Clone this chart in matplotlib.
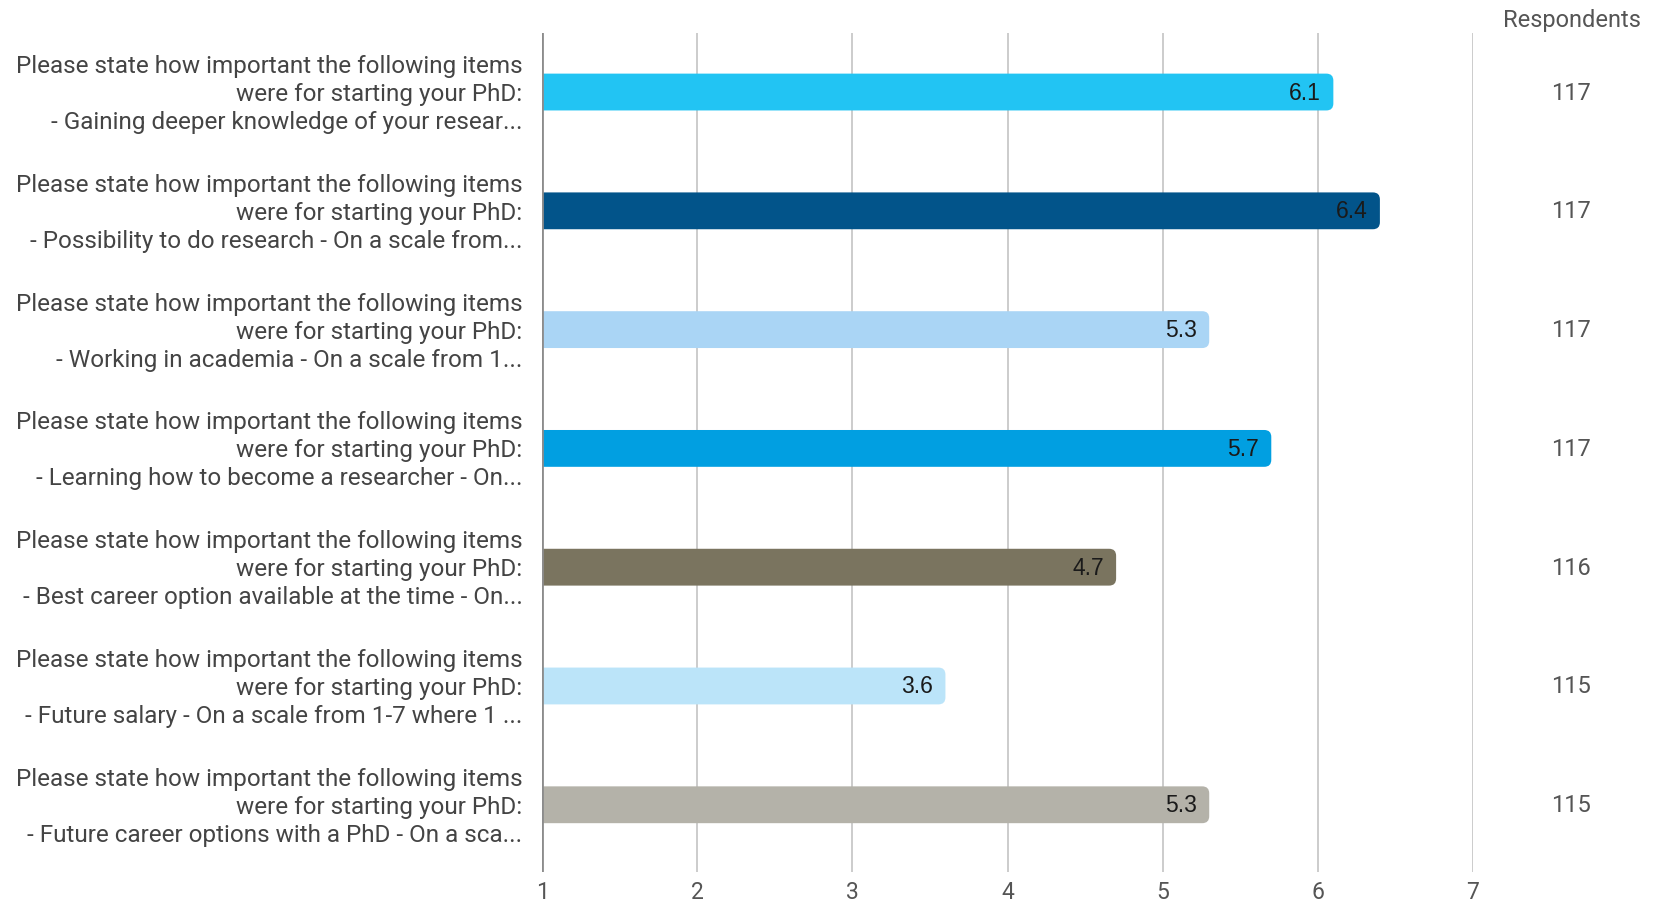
import matplotlib.pyplot as plt
from matplotlib.patches import FancyBboxPatch
import matplotlib.transforms as mtransforms

# chart data
items = [
    "Gaining deeper knowledge of your resear...",
    "Possibility to do research - On a scale from...",
    "Working in academia - On a scale from 1...",
    "Learning how to become a researcher - On...",
    "Best career option available at the time - On...",
    "Future salary - On a scale from 1-7 where 1 ...",
    "Future career options with a PhD - On a sca...",
]
prefix = "Please state how important the following items\nwere for starting your PhD:\n- "
scores = [6.1, 6.4, 5.3, 5.7, 4.7, 3.6, 5.3]
respondents = [117, 117, 117, 117, 116, 115, 115]
bar_colors = ["#22C4F3", "#02548A", "#AAD5F5", "#019FE1", "#7A745F", "#BBE4F9", "#B4B2A9"]
xticks = [1, 2, 3, 4, 5, 6, 7]

plt.rcParams["font.family"] = ["Roboto", "DejaVu Sans"]

fig = plt.figure(figsize=(16.53, 9.03), dpi=100)
ax = fig.add_axes([542 / 1653, 1 - 873 / 903, (1473 - 542) / 1653, (873 - 34) / 903])

ax.set_xlim(1, 7)
ax.set_ylim(6.566, -0.497)

bar_h = 0.31
# px per data unit, used to keep corner rounding circular
px_x = (1473 - 542) / 6
px_y = 118.8
r = 7 / px_x
for i, (v, c) in enumerate(zip(scores, bar_colors)):
    patch = FancyBboxPatch(
        (1 - 0.1, i - bar_h / 2), v - 1 + 0.1, bar_h,
        boxstyle=f"round,pad=0,rounding_size={r}",
        mutation_aspect=px_x / px_y,
        fc=c, ec="none", zorder=3,
    )
    ax.add_patch(patch)
    ax.text(v - 0.08, i, f"{v:.1f}", ha="right", va="center",
            fontsize=16.5, color="#1a1a1a", family=["Liberation Sans", "DejaVu Sans"], zorder=4)

# grid lines
for x in xticks[1:]:
    ax.axvline(x, color="#c4c4c4", lw=1.2, zorder=1)
ax.axvline(1, color="#8c8c8c", lw=2, zorder=5)

for s in ax.spines.values():
    s.set_visible(False)

ax.set_xticks(xticks)
ax.set_xticklabels([str(x) for x in xticks], fontsize=16.5, color="#555555")
ax.tick_params(axis="x", length=0, pad=6)
ax.set_yticks(range(len(items)))
ax.set_yticklabels([prefix + t for t in items], fontsize=17.5, color="#444444",
                   linespacing=1.28, ha="right", multialignment="right")
ax.tick_params(axis="y", length=0, pad=14)
shift = mtransforms.ScaledTranslation(0, 2.5 / 72, fig.dpi_scale_trans)
for lbl in ax.get_yticklabels():
    lbl.set_transform(lbl.get_transform() + shift)

# respondents column
trans = mtransforms.blended_transform_factory(fig.transFigure, ax.transData)
for i, n in enumerate(respondents):
    ax.text(1571 / 1653, i, str(n), transform=trans, ha="center", va="center",
            fontsize=17, color="#555555", clip_on=False)
fig.text(1641 / 1653, 1 - 20 / 903, "Respondents", ha="right", va="center",
         fontsize=17, color="#555555")

fig.savefig("out.png", dpi=100, facecolor="white")
